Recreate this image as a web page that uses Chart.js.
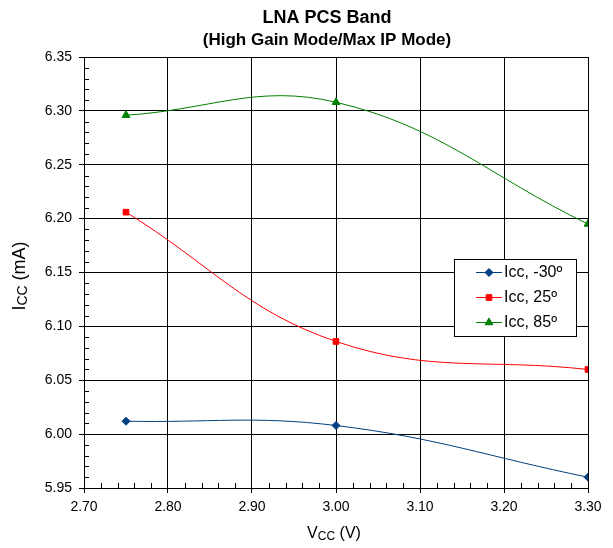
<!DOCTYPE html>
<html>
<head>
<meta charset="utf-8">
<script src="https://cdn.jsdelivr.net/npm/chart.js@4"></script>
<style>
  html, body { margin: 0; padding: 0; background: #fff; }
  #wrap { width: 613px; height: 548px; }
</style>
</head>
<body>
<div id="wrap"><canvas id="lnaChart"></canvas></div>
<script>
// data
const vcc = [2.75, 3.00, 3.30];
const iccM30 = [6.012, 6.008, 5.960];
const icc25 = [6.206, 6.086, 6.060];
const icc85 = [6.296, 6.308, 6.195];
const seriesNames = ["Icc, -30º", "Icc, 25º", "Icc, 85º"];
const xTicks = [2.70, 2.80, 2.90, 3.00, 3.10, 3.20, 3.30];
const yTicks = [5.95, 6.00, 6.05, 6.10, 6.15, 6.20, 6.25, 6.30, 6.35];
const titleText = "LNA PCS Band";
const subtitleText = "(High Gain Mode/Max IP Mode)";

const FONT = "'Liberation Sans', Arial, sans-serif";
const toPts = (ys) => ys.map((y, i) => ({ x: vcc[i], y: y }));

// axis title with a subscript, centred on (0,0)
function subTitle(ctx, main, sub, rest, mainPx, subPx) {
  ctx.font = mainPx + "px " + FONT;
  const w1 = ctx.measureText(main).width;
  const w3 = ctx.measureText(rest).width;
  ctx.font = subPx + "px " + FONT;
  const w2 = ctx.measureText(sub).width;
  const sx = -(w1 + w2 + w3) / 2;
  ctx.textAlign = "left";
  ctx.textBaseline = "middle";
  ctx.font = mainPx + "px " + FONT;
  ctx.fillText(main, sx, 0);
  ctx.fillText(rest, sx + w1 + w2, 0);
  ctx.font = subPx + "px " + FONT;
  ctx.fillText(sub, sx + w1, 3);
}

// titles, minor ticks (inside), axis titles, legend box
const extrasPlugin = {
  id: "extras",
  afterDraw(chart) {
    const ctx = chart.ctx;
    const area = chart.chartArea;
    const xs = chart.scales.x, ys = chart.scales.y;
    ctx.save();

    ctx.fillStyle = "#000";
    ctx.textAlign = "center";
    ctx.textBaseline = "alphabetic";
    ctx.font = "bold 18px " + FONT;
    ctx.fillText(titleText, 327, 23);
    ctx.font = "bold 17px " + FONT;
    ctx.fillText(subtitleText, 327, 45);

    ctx.strokeStyle = "#000";
    ctx.lineWidth = 1;
    ctx.beginPath();
    for (let i = 1; i < 40; i++) {
      if (i % 5 === 0) continue;
      const py = Math.round(ys.getPixelForValue(5.95 + i * 0.01)) + 0.5;
      ctx.moveTo(area.left, py);
      ctx.lineTo(area.left + 5, py);
    }
    for (let i = 1; i < 30; i++) {
      if (i % 5 === 0) continue;
      const px = Math.round(xs.getPixelForValue(2.70 + i * 0.02)) + 0.5;
      ctx.moveTo(px, area.bottom);
      ctx.lineTo(px, area.bottom - 5);
    }
    ctx.stroke();

    // axis titles
    ctx.save();
    ctx.translate(334, 534);
    subTitle(ctx, "V", "CC", " (V)", 16, 12);
    ctx.restore();
    ctx.save();
    ctx.translate(20, 276);
    ctx.rotate(-Math.PI / 2);
    subTitle(ctx, "I", "CC", " (mA)", 18, 14);
    ctx.restore();

    // legend
    const bx = 454, by = 259, bw = 122, bh = 77;
    ctx.fillStyle = "#fff";
    ctx.fillRect(bx, by, bw, bh);
    ctx.strokeStyle = "#000";
    ctx.lineWidth = 1;
    ctx.strokeRect(bx + 0.5, by + 0.5, bw, bh);
    chart.data.datasets.forEach((ds, i) => {
      const cy = by + 13 + i * 25;
      ctx.strokeStyle = ds.borderColor;
      ctx.beginPath();
      ctx.moveTo(476, cy + 0.5);
      ctx.lineTo(502, cy + 0.5);
      ctx.stroke();
      ctx.fillStyle = ds.pointBackgroundColor;
      ctx.strokeStyle = ds.pointBorderColor;
      Chart.helpers.drawPoint(ctx, {
        pointStyle: ds.pointStyle, radius: ds.pointRadius, rotation: 0, borderWidth: 1
      }, 489, cy + 0.5);
      ctx.fillStyle = "#000";
      ctx.font = "16px " + FONT;
      ctx.textAlign = "left";
      ctx.textBaseline = "middle";
      ctx.fillText(ds.label, 504, cy + 1);
    });
    ctx.restore();
  }
};

const mkSet = (label, ys, color, style, r) => ({
  label: label,
  data: toPts(ys),
  borderColor: color,
  backgroundColor: color,
  pointBackgroundColor: color,
  pointBorderColor: color,
  pointStyle: style,
  pointRadius: r,
  borderWidth: 1,
  tension: 0.4,
});

new Chart(document.getElementById("lnaChart"), {
  type: "line",
  data: {
    datasets: [
      mkSet(seriesNames[0], iccM30, "#003F7F", "rectRot", 4),
      mkSet(seriesNames[1], icc25, "#FF0000", "rect", 4),
      mkSet(seriesNames[2], icc85, "#008000", "triangle", 4.5),
    ],
  },
  options: {
    responsive: true,
    maintainAspectRatio: false,
    animation: false,
    layout: { padding: { left: 0, right: 25, top: 57, bottom: 0 } },
    plugins: {
      legend: { display: false },
      tooltip: { enabled: false },
      title: { display: false },
    },
    scales: {
      x: {
        type: "linear",
        min: 2.70,
        max: 3.30,
        afterBuildTicks: (s) => { s.ticks = xTicks.map((v) => ({ value: v })); },
        afterFit: (s) => { s.height = 60; },
        ticks: {
          color: "#000",
          font: { family: FONT, size: 14 },
          padding: 6,
          maxRotation: 0,
          callback: (v) => v.toFixed(2),
        },
        grid: { color: "#000", lineWidth: 1, tickLength: 5 },
        border: { color: "#000" },
      },
      y: {
        min: 5.95,
        max: 6.35,
        afterBuildTicks: (s) => { s.ticks = yTicks.map((v) => ({ value: v })); },
        afterFit: (s) => { s.width = 84; },
        ticks: {
          color: "#000",
          font: { family: FONT, size: 14 },
          padding: 7,
          callback: (v) => v.toFixed(2),
        },
        grid: { color: "#000", lineWidth: 1, tickLength: 5 },
        border: { color: "#000" },
      },
    },
  },
  plugins: [extrasPlugin],
});
</script>
</body>
</html>
